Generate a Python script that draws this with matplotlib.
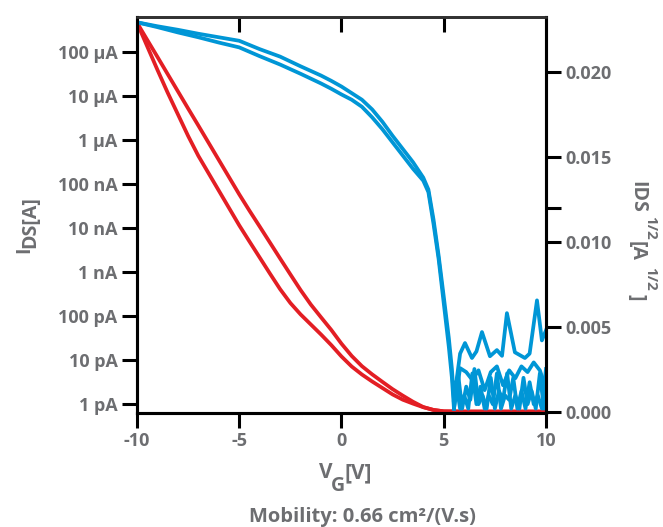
import matplotlib
matplotlib.use("Agg")
import matplotlib.pyplot as plt
import numpy as np

# Style constants
TEXT_COLOR = "#6d6e71"
BLUE = "#0096d6"
RED = "#e31e24"
W, H = 663, 527
plt.rcParams["font.family"] = ["Open Sans", "DejaVu Sans"]
plt.rcParams["font.weight"] = "bold"

# --- log10(I_DS / A) transfer curves (blue, left axis) ---
vg_sweep = [-10, -9, -8, -7, -6, -5, -4, -3, -2, -1, -0.5, 0, 0.5, 1, 1.5, 2,
            2.5, 3, 3.5, 4, 4.25, 4.5, 4.75, 5, 5.25, 5.4, 5.5]
ids_fwd_log = [-3.32, -3.41, -3.49, -3.58, -3.66, -3.74, -3.93, -4.10, -4.32,
               -4.53, -4.65, -4.78, -4.93, -5.08, -5.30, -5.58, -5.90, -6.20,
               -6.50, -6.85, -7.12, -7.80, -8.62, -9.55, -10.5, -11.2, -11.9]
ids_rev_log = [-3.32, -3.43, -3.55, -3.66, -3.78, -3.89, -4.09, -4.28, -4.49,
               -4.71, -4.83, -4.96, -5.08, -5.24, -5.48, -5.75, -6.05, -6.35,
               -6.65, -6.92, -7.18, -7.90, -8.70, -9.70, -10.7, -11.4, -12.1]

# off-state noise floor traces
vg_floor_a = [5.5, 5.8, 6.04, 6.38, 6.6, 6.87, 7.26, 7.6, 7.85, 8.09, 8.48,
              8.97, 9.2, 9.56, 9.8, 10.0]
floor_a_log = [-11.9, -10.85, -10.61, -10.95, -10.8, -10.36, -10.91, -10.77,
               -10.9, -9.93, -10.82, -10.95, -10.85, -9.64, -10.55, -10.32]
vg_floor_b = [5.5, 5.8, 6.1, 6.4, 6.7, 7.0, 7.3, 7.6, 7.9, 8.2, 8.5, 8.8,
              9.1, 9.4, 9.7, 10.0]
floor_b_log = [-12.1, -11.18, -11.27, -11.45, -11.23, -11.68, -11.27, -11.14,
               -11.57, -11.23, -11.41, -11.14, -11.27, -11.05, -11.23, -11.64]
vg_floor_c = [5.5, 5.7, 5.9, 6.1, 6.3, 6.5, 6.7, 6.9, 7.1, 7.3, 7.5, 7.7,
              7.9, 8.1, 8.3, 8.5, 8.7, 8.9, 9.1, 9.3, 9.5, 9.7, 9.9, 10.0]
floor_c_log = [-12.1, -11.3, -12.1, -11.6, -11.9, -11.2, -12.0, -11.8, -12.1,
               -11.4, -12.1, -11.7, -11.9, -11.3, -12.1, -11.8, -12.1, -11.4,
               -12.0, -11.7, -12.1, -11.3, -12.1, -11.6]
vg_floor_d = [5.6, 5.8, 6.0, 6.2, 6.4, 6.6, 6.8, 7.0, 7.2, 7.4, 7.6, 7.8,
              8.0, 8.2, 8.4, 8.6, 8.8, 9.0, 9.2, 9.4, 9.6, 9.8, 10.0]
floor_d_log = [-11.5, -12.1, -11.8, -12.1, -11.3, -12.0, -11.6, -12.1, -11.8,
               -12.0, -11.3, -12.1, -11.8, -11.9, -11.4, -12.1, -11.7, -12.1,
               -11.5, -12.0, -11.8, -12.1, -11.2]

# --- sqrt(I_DS) curves (red, right axis) ---
vg_red = [-10, -9.5, -9, -8.5, -8, -7.5, -7, -6.5, -6, -5.5, -5, -4.5, -4,
          -3.5, -3, -2.5, -2, -1.5, -1, -0.5, 0, 0.5, 1, 1.5, 2, 2.5, 3, 3.5,
          4, 4.5, 5, 6, 7, 8, 9, 10]
sqrt_fwd = [0.02287, 0.02186, 0.02086, 0.01985, 0.01884, 0.01783, 0.01683,
            0.01582, 0.01481, 0.01380, 0.01279, 0.01183, 0.01090, 0.00996,
            0.00902, 0.00809, 0.00717, 0.00632, 0.00557, 0.00483, 0.00402,
            0.00330, 0.00270, 0.00222, 0.00178, 0.00135, 0.00097, 0.00061,
            0.00030, 0.00013, 0.00005, 0.00004, 0.00004, 0.00004, 0.00004,
            0.00004]
sqrt_rev = [0.02287, 0.02148, 0.02010, 0.01876, 0.01749, 0.01622, 0.01505,
            0.01403, 0.01301, 0.01199, 0.01097, 0.01002, 0.00908, 0.00814,
            0.00722, 0.00641, 0.00574, 0.00515, 0.00456, 0.00394, 0.00327,
            0.00268, 0.00221, 0.00180, 0.00142, 0.00104, 0.00073, 0.00050,
            0.00029, 0.00013, 0.00005, 0.00003, 0.00003, 0.00003, 0.00003,
            0.00003]

log_ticks = [1e-12, 1e-11, 1e-10, 1e-9, 1e-8, 1e-7, 1e-6, 1e-5, 1e-4]
log_tick_labels = ["1 pA", "10 pA", "100 pA", "1 nA", "10 nA", "100 nA",
                   "1 \u03bcA", "10 \u03bcA", "100 \u03bcA"]
sqrt_ticks = [0.0, 0.005, 0.010, 0.015, 0.020]
vg_ticks = [-10, -5, 0, 5, 10]


def px(x, y):
    # pixel position (from top-left) -> figure fraction
    return x / W, 1 - y / H


fig = plt.figure(figsize=(W / 100, H / 100), dpi=100, facecolor="white")
ax = fig.add_axes([0.2066, 0.2163, 0.6169, 0.7514])
ax2 = ax.twinx()

# red on the lower axes, blue drawn on top
ax.set_zorder(ax2.get_zorder() + 1)
ax.patch.set_visible(False)

lw = 2.7
blue_sets = [(vg_sweep, ids_fwd_log), (vg_sweep, ids_rev_log),
             (vg_floor_a, floor_a_log), (vg_floor_b, floor_b_log),
             (vg_floor_c, floor_c_log), (vg_floor_d, floor_d_log)]
for v, lg in blue_sets:
    ax.plot(v, 10 ** np.array(lg), color=BLUE, lw=lw, solid_joinstyle="round")

ax2.plot(vg_red, sqrt_fwd, color=RED, lw=lw, solid_joinstyle="round")
ax2.plot(vg_red, sqrt_rev, color=RED, lw=lw, solid_joinstyle="round")

ax.set_yscale("log")
ax.set_xlim(-10, 10)
ax.set_ylim(10 ** -12.2, 10 ** -3.2)
ax2.set_ylim(-0.00005, 0.0232)

ax.set_xticks(vg_ticks)
ax.set_xticklabels([str(t) for t in vg_ticks])
ax.set_yticks(log_ticks)
ax.set_yticklabels(log_tick_labels)
ax.yaxis.set_minor_locator(matplotlib.ticker.NullLocator())
ax2.set_yticks(sqrt_ticks)
ax2.set_yticklabels([f"{t:.3f}" for t in sqrt_ticks])
ax2.set_yticks([0.012], minor=True)

for a in (ax, ax2):
    for s in a.spines.values():
        s.set_linewidth(2.2)
        s.set_color("black")
    a.tick_params(which="both", direction="out", length=11, width=2.2,
                  colors="black", labelcolor=TEXT_COLOR, labelsize=13, pad=3)
    a.spines["top"].set_linewidth(1.8)
    a.spines["top"].set_color("#333333")

top = ax.secondary_xaxis("top")
top.set_xticks(vg_ticks[1:-1])
top.tick_params(direction="in", length=11, width=2.2, labeltop=False)
top.spines["top"].set_linewidth(1.8)
top.spines["top"].set_color("#333333")

txt = dict(color=TEXT_COLOR, fontweight="bold")

# x label: V_G[V]
fig.text(*px(319, 478), "V", fontsize=15, ha="left", va="baseline", **txt)
fig.text(*px(331, 491), "G", fontsize=14, ha="left", va="baseline", **txt)
fig.text(*px(345, 478), "[V]", fontsize=15, ha="left", va="baseline", **txt)

# left y label: I_DS[A]
fig.text(*px(24, 250), "I", fontsize=14, rotation=90, ha="center", va="center", **txt)
fig.text(*px(30, 222), "DS[A]", fontsize=14, rotation=90, ha="center", va="center", **txt)

# right y label: I_DS^1/2 [A^1/2]
fig.text(*px(637, 197), "IDS", fontsize=14, rotation=270, ha="center", va="center", **txt)
fig.text(*px(650, 228), "1/2", fontsize=11, rotation=270, ha="center", va="center", **txt)
fig.text(*px(637, 251), "[A", fontsize=14, rotation=270, ha="center", va="center", **txt)
fig.text(*px(650, 279), "1/2", fontsize=11, rotation=270, ha="center", va="center", **txt)
fig.text(*px(636, 297), "]", fontsize=14, rotation=270, ha="center", va="center", **txt)

fig.text(*px(362, 522), "Mobility: 0.66 cm\u00b2/(V.s)", ha="center", va="baseline",
         fontsize=14.5, **txt)

fig.savefig("out.png", dpi=100, facecolor="white")
